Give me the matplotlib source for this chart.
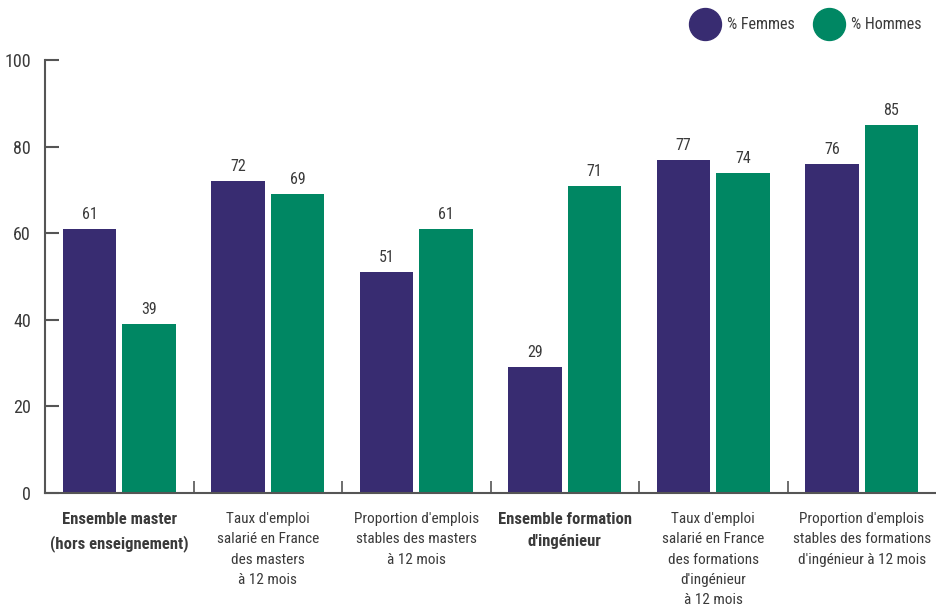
import numpy as np
import matplotlib.pyplot as plt
from matplotlib.lines import Line2D

plt.rcParams['font.family'] = ['Roboto Condensed', 'Liberation Sans', 'DejaVu Sans']

categories = [
    "Ensemble master\n(hors enseignement)",
    "Taux d'emploi\nsalarié en France\ndes masters\nà 12 mois",
    "Proportion d'emplois\nstables des masters\nà 12 mois",
    "Ensemble formation\nd'ingénieur",
    "Taux d'emploi\nsalarié en France\ndes formations\nd'ingénieur\nà 12 mois",
    "Proportion d'emplois\nstables des formations\nd'ingénieur à 12 mois",
]
bold_labels = [0, 3]
femmes = [61, 72, 51, 29, 77, 76]
hommes = [39, 69, 61, 71, 74, 85]

purple = "#382c71"
green = "#008763"
text_col = "#3a3a3a"
spine_col = "#555555"

fig = plt.figure(figsize=(9.36, 6.11), dpi=100)
ax = fig.add_axes([45 / 936, 1 - 493 / 611, 891 / 936, 433 / 611])

x = np.arange(len(categories)) + 0.5
w = 0.36
b1 = ax.bar(x - 0.2, femmes, width=w, color=purple)
b2 = ax.bar(x + 0.2, hommes, width=w, color=green)
for bars in (b1, b2):
    ax.bar_label(bars, padding=5, fontsize=11.5, color=text_col)

ax.set_xlim(0, 6)
ax.set_ylim(0, 100)
ax.set_yticks(range(0, 101, 20))
ax.tick_params(axis='y', direction='in', length=10, width=1.5, color=spine_col,
               labelsize=13, labelcolor=text_col, pad=10)
ax.set_xticks(x)
ax.set_xticklabels(categories, fontsize=11, color=text_col, linespacing=1.55)
ax.tick_params(axis='x', length=0, pad=14)
for i, lab in enumerate(ax.get_xticklabels()):
    if i in bold_labels:
        lab.set_fontweight('bold')
        lab.set_fontsize(12)
ax.set_xticks(np.arange(1, 6), minor=True)
ax.tick_params(axis='x', which='minor', direction='in', length=9, width=1.2,
               color=spine_col)

for s in ('top', 'right'):
    ax.spines[s].set_visible(False)
for s in ('left', 'bottom'):
    ax.spines[s].set_color(spine_col)
    ax.spines[s].set_linewidth(1.5)

handles = [
    Line2D([], [], marker='o', linestyle='', markersize=23, color=purple),
    Line2D([], [], marker='o', linestyle='', markersize=23, color=green),
]
fig.legend(handles, ["% Femmes", "% Hommes"], loc='upper right',
           bbox_to_anchor=(1.0, 0.995), ncol=2, frameon=False, fontsize=11.5,
           handletextpad=0.4, columnspacing=1.1, labelcolor=text_col)

fig.savefig("out.png", dpi=100)
